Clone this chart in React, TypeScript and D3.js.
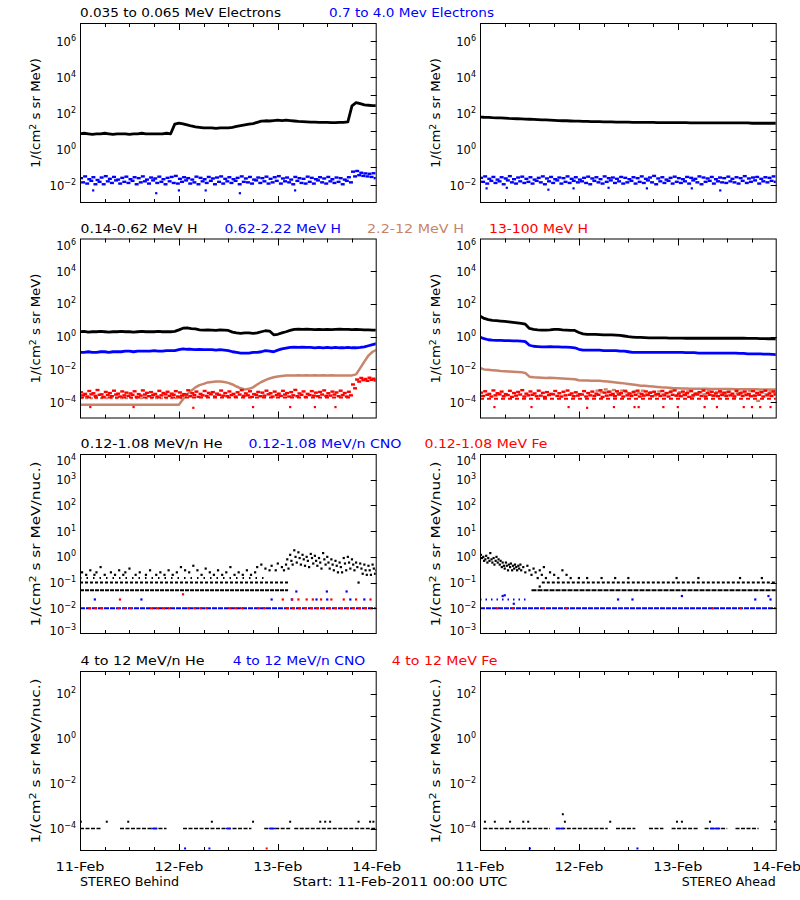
import React from "react";
import * as d3 from "d3";

// ---------------- axis labels / titles ----------------
const DAY_LABELS = ["11-Feb", "12-Feb", "13-Feb", "14-Feb"];
const FOOT_LEFT = "STEREO Behind";
const FOOT_MID = "Start: 11-Feb-2011 00:00 UTC";
const FOOT_RIGHT = "STEREO Ahead";

const TITLES_ROW1 = ["0.035 to 0.065 MeV Electrons", "0.7 to 4.0 Mev Electrons"];
const TITLES_ROW2 = ["0.14-0.62 MeV H", "0.62-2.22 MeV H", "2.2-12 MeV H", "13-100 MeV H"];
const TITLES_ROW3 = ["0.12-1.08 MeV/n He", "0.12-1.08 MeV/n CNO", "0.12-1.08 MeV Fe"];
const TITLES_ROW4 = ["4 to 12 MeV/n He", "4 to 12 MeV/n CNO", "4 to 12 MeV Fe"];

// ---------------- data (hourly, hour 0 = 11-Feb-2011 00:00) ----------------
// Row 1: electrons
const behindElecLow = [
  7, 7.5, 7, 6.5, 7, 7, 7.5, 7, 6.5, 7, 7, 7,
  6.5, 7, 7, 7.5, 7, 7, 7, 7, 7, 7.5, 7, 24,
  27, 25, 22, 19, 17, 16, 15, 15, 15, 14, 15, 15,
  15, 16, 18, 20, 22, 24, 26, 30, 35, 37, 36, 38,
  40, 38, 40, 38, 36, 34, 33, 32, 31, 31, 30, 30,
  30, 29, 29, 30, 30, 32, 250, 380, 330, 280, 270, 260,
  260,
];
const aheadElecLow = [
  60, 58, 57, 55, 54, 53, 52, 50, 49, 48, 47, 46,
  45, 44, 43, 42, 41, 40, 39, 38, 37, 37, 36, 35,
  35, 34, 34, 33, 33, 33, 32, 32, 32, 31, 31, 31,
  31, 30, 30, 30, 30, 30, 30, 29, 29, 29, 29, 29,
  29, 29, 29, 28, 28, 28, 28, 28, 28, 28, 28, 28,
  28, 28, 28, 28, 28, 28, 27, 27, 27, 27, 27, 27,
  27,
];
const behindElecHiA = [
  0.024, 0.03, 0.021, 0.027, 0.019, 0.026, 0.031, 0.022, 0.028, 0.02, 0.025, 0.029,
  0.021, 0.027, 0.024, 0.03, 0.02, 0.026, 0.023, 0.029, 0.021, 0.025, 0.028, 0.032,
  0.022, 0.027, 0.024, 0.02, 0.029, 0.025, 0.021, 0.028, 0.023, 0.026, 0.03, 0.022,
  0.027, 0.021, 0.025, 0.03, 0.023, 0.028, 0.02, 0.026, 0.024, 0.029, 0.022, 0.027,
  0.031, 0.023, 0.026, 0.02, 0.028, 0.024, 0.022, 0.029, 0.025, 0.021, 0.027, 0.023,
  0.028, 0.021, 0.026, 0.024, 0.02, 0.027, 0.055, 0.06, 0.048, 0.044, 0.042, 0.045,
];
const behindElecHiB = [
  0.014, 0.012, 0.017, 0.011, 0.015, 0.011, 0.016, 0.013, 0.018, 0.012, 0.015, 0.013,
  0.017, 0.011, 0.014, 0.016, 0.012, 0.018, 0.013, 0.015, 0.011, 0.016, 0.013, 0.012,
  0.015, 0.018, 0.012, 0.014, 0.011, 0.016, 0.013, 0.017, 0.011, 0.015, 0.012, 0.016,
  0.013, 0.017, 0.011, 0.015, 0.014, 0.012, 0.018, 0.013, 0.016, 0.012, 0.014, 0.017,
  0.012, 0.016, 0.014, 0.011, 0.017, 0.013, 0.012, 0.015, 0.012, 0.018, 0.014, 0.012,
  0.016, 0.013, 0.015, 0.011, 0.017, 0.014, 0.03, 0.035, 0.032, 0.03, 0.028, 0.024,
];
const behindElecHiOut = [[3.2, 0.005], [18.5, 0.0035], [24, 0.005], [30.5, 0.005], [38.8, 0.0035], [52.2, 0.005]];
const aheadElecHiA = [
  0.025, 0.03, 0.022, 0.028, 0.02, 0.027, 0.023, 0.031, 0.021, 0.026, 0.029, 0.022,
  0.027, 0.02, 0.025, 0.03, 0.023, 0.028, 0.021, 0.026, 0.024, 0.03, 0.022, 0.027,
  0.02, 0.025, 0.029, 0.023, 0.027, 0.021, 0.03, 0.024, 0.026, 0.022, 0.028, 0.025,
  0.021, 0.027, 0.024, 0.03, 0.022, 0.026, 0.032, 0.023, 0.027, 0.02, 0.025, 0.029,
  0.024, 0.021, 0.028, 0.025, 0.022, 0.03, 0.026, 0.023, 0.028, 0.021, 0.026, 0.024,
  0.029, 0.022, 0.027, 0.024, 0.031, 0.023, 0.026, 0.028, 0.022, 0.027, 0.025, 0.03,
];
const aheadElecHiB = [
  0.015, 0.012, 0.017, 0.013, 0.016, 0.011, 0.018, 0.014, 0.012, 0.016, 0.013, 0.015,
  0.012, 0.017, 0.014, 0.011, 0.016, 0.013, 0.018, 0.012, 0.015, 0.013, 0.017, 0.014,
  0.016, 0.013, 0.011, 0.017, 0.014, 0.012, 0.015, 0.018, 0.013, 0.016, 0.012, 0.014,
  0.017, 0.012, 0.015, 0.013, 0.018, 0.014, 0.011, 0.016, 0.013, 0.017, 0.012, 0.015,
  0.013, 0.016, 0.012, 0.018, 0.014, 0.011, 0.015, 0.017, 0.012, 0.016, 0.014, 0.013,
  0.016, 0.014, 0.012, 0.017, 0.013, 0.015, 0.018, 0.012, 0.016, 0.014, 0.017, 0.015,
];
const aheadElecHiOut = [[1.6, 0.0065], [6.5, 0.007], [16.6, 0.0055], [22.7, 0.0065], [31.2, 0.007], [40.5, 0.0065], [51.4, 0.0065], [58.3, 0.005]];

// Row 2: protons
const behindH1 = [
  2, 2.1, 1.9, 2, 2, 2.1, 2, 1.9, 2, 2, 2.1, 2,
  2, 1.9, 2, 2.1, 2, 2, 2, 2.1, 2, 2, 2, 2.1,
  2.6, 3.3, 3.4, 3.1, 3, 2.6, 2.5, 2.6, 2.5, 2.4, 2.6, 2.5,
  2.4, 1.9, 1.7, 1.6, 1.7, 1.7, 1.6, 1.7, 2, 2.3, 2.2, 1.3,
  1.4, 1.7, 2, 2.4, 2.8, 2.9, 2.8, 2.9, 2.8, 2.7, 2.8, 2.7,
  2.8, 2.7, 2.8, 2.9, 2.8, 2.8, 2.7, 2.8, 2.7, 2.6, 2.6, 2.5,
  2.5,
];
const behindH2 = [
  0.11, 0.11, 0.12, 0.11, 0.11, 0.12, 0.12, 0.11, 0.12, 0.12, 0.12, 0.13,
  0.13, 0.12, 0.13, 0.13, 0.13, 0.13, 0.14, 0.13, 0.13, 0.14, 0.14, 0.14,
  0.16, 0.18, 0.17, 0.17, 0.16, 0.17, 0.16, 0.16, 0.16, 0.15, 0.16, 0.15,
  0.14, 0.12, 0.11, 0.1, 0.1, 0.1, 0.11, 0.11, 0.12, 0.14, 0.13, 0.12,
  0.15, 0.18, 0.2, 0.22, 0.23, 0.22, 0.23, 0.22, 0.22, 0.21, 0.22, 0.21,
  0.22, 0.21, 0.22, 0.21, 0.21, 0.22, 0.21, 0.21, 0.22, 0.24, 0.28, 0.33,
  0.38,
];
const behindH3 = [
  7e-5, 7e-5, 7e-5, 7e-5, 7e-5, 7e-5, 7e-5, 7e-5, 7e-5, 7e-5, 7e-5, 7e-5,
  7e-5, 7e-5, 7e-5, 7e-5, 7e-5, 7e-5, 7e-5, 7e-5, 7e-5, 7e-5, 7e-5, 7e-5,
  7e-5, 1.5e-4, 3e-4, 5e-4, 8e-4, 1.1e-3, 1.3e-3, 1.6e-3, 1.7e-3, 1.8e-3, 1.8e-3, 1.7e-3,
  1.5e-3, 1.2e-3, 9e-4, 7e-4, 6e-4, 6.5e-4, 8e-4, 1.2e-3, 1.7e-3, 2.2e-3, 2.8e-3, 3.3e-3,
  3.7e-3, 4e-3, 4.2e-3, 4.3e-3, 4.3e-3, 4.4e-3, 4.3e-3, 4.4e-3, 4.3e-3, 4.4e-3, 4.3e-3, 4.4e-3,
  4.3e-3, 4.4e-3, 4.3e-3, 4.2e-3, 4.3e-3, 4.2e-3, 4.3e-3, 5e-3, 1.2e-2, 3e-2, 7e-2, 1.2e-1,
  1.6e-1,
];
const behindH3Runs = [[0, 25, 1.7e-4]];
const behindH4A = [
  4e-4, 3.2e-4, 4.8e-4, 3.5e-4, 5.5e-4, 3e-4, 4.2e-4, 3.6e-4, 5e-4, 3.3e-4, 4.5e-4, 3.8e-4,
  3.4e-4, 4.6e-4, 3.1e-4, 5.2e-4, 3.7e-4, 4.1e-4, 3.2e-4, 4.9e-4, 3.6e-4, 4.3e-4, 3.3e-4, 4.7e-4,
  3.9e-4, 3.1e-4, 5.3e-4, 3.5e-4, 4.4e-4, 3.2e-4, 4.8e-4, 3.7e-4, 4.1e-4, 3.3e-4, 5.1e-4, 3.6e-4,
  4.5e-4, 3.2e-4, 4e-4, 5.4e-4, 3.4e-4, 4.6e-4, 3.1e-4, 4.2e-4, 3.8e-4, 5e-4, 3.5e-4, 4.4e-4,
  3.3e-4, 4.9e-4, 3.6e-4, 4.1e-4, 5.6e-4, 3.4e-4, 4.5e-4, 3.2e-4, 4.7e-4, 3.8e-4, 4.2e-4, 5.2e-4,
  3.5e-4, 4.4e-4, 3.9e-4, 5e-4, 3.6e-4, 4.3e-4, 1.2e-3, 2.4e-3, 3e-3, 2.6e-3, 3.1e-3, 2.7e-3,
];
const behindH4B = [
  2.6e-4, 2.2e-4, 3e-4, 2.4e-4, 2.8e-4, 2.1e-4, 2.7e-4, 2.3e-4, 2.9e-4, 2.2e-4, 2.6e-4, 2.4e-4,
  2.8e-4, 2.1e-4, 2.5e-4, 2.9e-4, 2.3e-4, 2.7e-4, 2.2e-4, 2.6e-4, 3e-4, 2.4e-4, 2.8e-4, 2.2e-4,
  2.5e-4, 2.9e-4, 2.3e-4, 2.7e-4, 2.1e-4, 2.6e-4, 2.4e-4, 3e-4, 2.2e-4, 2.8e-4, 2.5e-4, 2.3e-4,
  2.7e-4, 2.2e-4, 2.9e-4, 2.4e-4, 2.6e-4, 2.1e-4, 2.8e-4, 2.3e-4, 2.5e-4, 3e-4, 2.2e-4, 2.7e-4,
  2.4e-4, 2.9e-4, 2.2e-4, 2.6e-4, 2.3e-4, 2.8e-4, 2.1e-4, 2.7e-4, 2.5e-4, 2.3e-4, 2.9e-4, 2.4e-4,
  2.5e-4, 2.9e-4, 2.3e-4, 2.7e-4, 2.2e-4, 2.6e-4, 7e-4, 1.8e-3, 2.2e-3, 2e-3, 2.3e-3, 2.1e-3,
];
const behindH4Runs = [[0, 66, 1.9e-4]];
const behindH4Out = [[2.5, 5e-5], [13, 5e-5], [27.5, 4.5e-5], [42, 5e-5], [51, 5e-5], [57, 5e-5], [62, 5e-5]];

const aheadH1 = [
  18, 13, 11, 10, 9.5, 9, 8.5, 8, 7.5, 7, 6.5, 5.8,
  3.2, 2.8, 2.6, 2.5, 2.5, 2.6, 2.8, 2.8, 2.6, 2.5, 2.4, 2.4,
  1.8, 1.5, 1.4, 1.4, 1.4, 1.35, 1.3, 1.3, 1.3, 1.25, 1.2, 1.1,
  1, 0.95, 0.9, 0.9, 0.88, 0.85, 0.85, 0.85, 0.85, 0.85, 0.82, 0.82,
  0.82, 0.82, 0.8, 0.8, 0.8, 0.8, 0.8, 0.8, 0.8, 0.8, 0.8, 0.8,
  0.8, 0.8, 0.8, 0.8, 0.8, 0.78, 0.78, 0.78, 0.76, 0.76, 0.75, 0.75,
  0.75,
];
const aheadH2 = [
  0.95, 0.75, 0.65, 0.62, 0.6, 0.6, 0.58, 0.58, 0.56, 0.55, 0.54, 0.5,
  0.3, 0.26, 0.25, 0.24, 0.24, 0.25, 0.24, 0.24, 0.23, 0.23, 0.22, 0.21,
  0.17, 0.15, 0.15, 0.15, 0.15, 0.15, 0.14, 0.14, 0.14, 0.14, 0.13, 0.13,
  0.12, 0.11, 0.11, 0.11, 0.11, 0.11, 0.11, 0.11, 0.11, 0.11, 0.11, 0.11,
  0.11, 0.11, 0.105, 0.105, 0.105, 0.1, 0.1, 0.1, 0.1, 0.1, 0.1, 0.1,
  0.1, 0.1, 0.1, 0.095, 0.095, 0.09, 0.09, 0.09, 0.088, 0.085, 0.085, 0.082,
  0.08,
];
const aheadH3 = [
  0.012, 0.01, 0.0095, 0.009, 0.0085, 0.008, 0.0078, 0.0075, 0.0072, 0.007, 0.0068, 0.006,
  0.0036, 0.0033, 0.0032, 0.0031, 0.003, 0.0031, 0.003, 0.0029, 0.0028, 0.0027, 0.0026, 0.0025,
  0.0022, 0.0021, 0.0021, 0.002, 0.002, 0.002, 0.0019, 0.0018, 0.0017, 0.0016, 0.0015, 0.0014,
  0.0013, 0.0012, 0.0011, 0.001, 0.001, 0.00095, 0.0009, 0.00085, 0.0008, 0.00078, 0.00075, 0.0007,
  0.0007, 0.00068, 0.00067, 0.00066, 0.00066, 0.00065, 0.00065, 0.00065, 0.00064, 0.00064, 0.00064, 0.00063,
  0.00063, 0.00063, 0.00062, 0.00062, 0.00062, 0.00061, 0.00061, 0.00061, 0.0006, 0.0006, 0.0006, 0.0006,
  0.0006,
];
// lower scatter of the 2.2-12 MeV channel, hours 28..71
const aheadH3Low = [
  5e-4, 4e-4, 6e-4, 4.5e-4, 5.5e-4, 3.5e-4, 5e-4, 4e-4, 3e-4, 4.5e-4, 3.5e-4, 5e-4,
  3e-4, 4e-4, 2.5e-4, 4.5e-4, 3e-4, 3.5e-4, 5e-4, 2.5e-4, 4e-4, 3e-4, 4.5e-4, 2e-4,
  3.5e-4, 4e-4, 3e-4, 5e-4, 2.5e-4, 4e-4, 3.5e-4, 3e-4, 4.5e-4, 2.5e-4, 3.5e-4, 4e-4,
  3e-4, 5e-4, 2.5e-4, 1.2e-4, 4e-4, 3e-4, 4.5e-4, 3.5e-4,
];
const aheadH4A = [
  3.8e-4, 4.6e-4, 3.2e-4, 5.2e-4, 3.5e-4, 4.4e-4, 3.1e-4, 4.9e-4, 3.6e-4, 4.2e-4, 5.4e-4, 3.3e-4,
  4.5e-4, 3.4e-4, 5e-4, 3.7e-4, 4.1e-4, 3.2e-4, 4.8e-4, 3.5e-4, 4.3e-4, 5.1e-4, 3.4e-4, 4e-4,
  3.1e-4, 4.7e-4, 3.6e-4, 4.4e-4, 3.3e-4, 5.3e-4, 3.8e-4, 4.2e-4, 3.2e-4, 4.6e-4, 3.5e-4, 4.9e-4,
  3.4e-4, 4.1e-4, 5e-4, 3.2e-4, 4.5e-4, 3.7e-4, 4.3e-4, 3.1e-4, 4.8e-4, 3.6e-4, 4.2e-4, 5.2e-4,
  3.3e-4, 4.4e-4, 3.5e-4, 4.7e-4, 3.2e-4, 4.1e-4, 5.1e-4, 3.6e-4, 4.3e-4, 3.4e-4, 4.6e-4, 3.8e-4,
  4.2e-4, 3.3e-4, 4.9e-4, 3.5e-4, 4.4e-4, 3.2e-4, 4.7e-4, 3.7e-4, 4.1e-4, 5e-4, 3.4e-4, 4.5e-4,
];
const aheadH4B = [
  2.4e-4, 2.8e-4, 2.2e-4, 2.6e-4, 3e-4, 2.3e-4, 2.7e-4, 2.1e-4, 2.5e-4, 2.9e-4, 2.2e-4, 2.6e-4,
  2.8e-4, 2.3e-4, 2.5e-4, 2.1e-4, 2.7e-4, 3e-4, 2.4e-4, 2.2e-4, 2.6e-4, 2.8e-4, 2.3e-4, 2.5e-4,
  2.9e-4, 2.2e-4, 2.6e-4, 2.4e-4, 2.8e-4, 2.1e-4, 2.5e-4, 2.7e-4, 2.3e-4, 2.9e-4, 2.2e-4, 2.6e-4,
  2.4e-4, 2.8e-4, 2.2e-4, 2.5e-4, 2.7e-4, 2.3e-4, 3e-4, 2.4e-4, 2.6e-4, 2.2e-4, 2.8e-4, 2.5e-4,
  2.3e-4, 2.7e-4, 2.1e-4, 2.6e-4, 2.9e-4, 2.4e-4, 2.2e-4, 2.8e-4, 2.5e-4, 2.3e-4, 2.7e-4, 2.4e-4,
  2.6e-4, 2.2e-4, 2.9e-4, 2.4e-4, 2.7e-4, 2.3e-4, 2.5e-4, 2.8e-4, 2.2e-4, 2.6e-4, 2.4e-4, 2.9e-4,
];
const aheadH4Runs = [[0, 72, 1.6e-4]];
const aheadH4Out = [[3.5, 5e-5], [12.5, 5e-5], [21.5, 5e-5], [26, 4.5e-5], [32.5, 5e-5], [37.5, 5e-5], [38.5, 5e-5], [44.5, 5e-5], [48, 5e-5], [54.5, 5e-5], [57.5, 5e-5], [64, 5e-5], [66, 5e-5], [68, 5e-5], [70.5, 5e-5]];

// Row 3: 0.12-1.08 MeV/n heavy ions (quantised counts -> level runs + dots)
const behindHeRunsDense = [[0, 50.5, 0.05]];
const behindHeRunsMid = [[0, 50.5, 0.1]];
const behindHeRunsSparse = [[0, 45, 0.15]];
const behindHeDots = [
  [0.5, 0.25], [1.5, 0.2], [2.5, 0.3], [3.5, 0.2], [4, 0.25], [5, 0.4], [6, 0.2], [7.5, 0.25], [8.5, 0.2], [9.5, 0.3],
  [10.5, 0.2], [11, 0.25], [12, 0.35], [13.5, 0.2], [14.5, 0.25], [16, 0.2], [17, 0.3], [18.5, 0.2], [19.5, 0.25], [20.5, 0.2],
  [21.5, 0.3], [22.5, 0.2], [23.5, 0.25], [24.5, 0.4], [25.5, 0.3], [26.5, 0.25], [27.5, 0.45], [28.5, 0.3], [29.5, 0.2], [30.5, 0.35],
  [31.5, 0.25], [32.5, 0.2], [33.5, 0.3], [34.5, 0.2], [35.5, 0.25], [36.5, 0.4], [37.5, 0.2], [38.5, 0.25], [39.5, 0.2], [40.5, 0.3],
  [41.5, 0.2], [42.5, 0.25], [43, 0.4], [44, 0.5], [45, 0.35], [46, 0.3], [46.5, 0.45], [47.5, 0.3], [48, 0.55], [49, 0.4], [49.5, 0.3],
  [50, 0.5], [50.3, 0.8], [50.6, 0.35], [51, 1.2], [51.3, 0.7], [51.6, 0.5], [52, 1.8], [52.3, 1.0], [52.6, 0.6],
  [53, 1.5], [53.3, 0.9], [53.6, 0.5], [54, 1.2], [54.3, 0.8], [54.6, 0.45], [55, 1.0], [55.3, 0.7], [55.6, 0.4],
  [56, 1.3], [56.3, 0.9], [56.6, 0.55], [57, 1.1], [57.3, 0.7], [57.6, 0.45], [58, 0.9], [58.3, 0.6], [58.6, 0.35],
  [59, 1.4], [59.3, 0.8], [59.6, 0.5], [60, 1.0], [60.3, 0.6], [60.6, 0.35], [61, 0.8], [61.3, 0.5], [61.6, 0.3],
  [62, 0.7], [62.3, 0.45], [62.6, 0.25], [63, 0.6], [63.3, 0.4], [63.6, 0.25], [64, 0.9], [64.3, 0.55], [64.6, 0.3],
  [65, 1.0], [65.3, 0.6], [65.6, 0.35], [66, 0.8], [66.3, 0.5], [66.6, 0.3], [67, 0.6], [67.3, 0.4], [67.6, 0.1],
  [68, 0.55], [68.3, 0.35], [68.6, 0.22], [69, 0.5], [69.3, 0.3], [69.6, 0.2], [70, 0.45], [70.3, 0.3], [70.6, 0.2],
  [71, 0.5], [71.3, 0.35], [71.6, 0.22], [71.9, 0.3],
];
const behindCnoRuns = [[0, 72, 0.01]];
const behindCnoDots = [[3.6, 0.022], [14.9, 0.022], [46.5, 0.022], [51.4, 0.022], [57.4, 0.022], [60, 0.022], [65.6, 0.022], [69, 0.022], [52.5, 0.045], [59.9, 0.045], [64.7, 0.045]];
const behindFeRuns = [[2, 6, 0.01], [9, 13, 0.01], [17, 22, 0.01], [26, 31, 0.01], [36, 40, 0.01], [43, 46, 0.01], [50, 72, 0.01]];
const behindFeDots = [[9.7, 0.022], [25, 0.035], [49.2, 0.022], [51.5, 0.022], [53, 0.022], [55, 0.022], [56.5, 0.022], [58.5, 0.022], [61, 0.022], [64, 0.022], [67, 0.022], [70.5, 0.022]];

const aheadHeRunsDense = [[12.5, 72, 0.05]];
const aheadHeRunsMid = [[15, 72, 0.1]];
const aheadHeDots = [
  [0.2, 1.2], [0.5, 0.9], [0.8, 1.0], [1, 0.7], [1.3, 0.8], [1.5, 1.1], [1.8, 0.6], [2, 0.9], [2.3, 0.7], [2.5, 1.4],
  [2.8, 0.8], [3, 0.6], [3.3, 0.9], [3.5, 0.5], [3.8, 0.7], [4, 1.0], [4.3, 0.6], [4.5, 0.8], [4.8, 0.5], [5, 0.7],
  [5.3, 0.4], [5.5, 0.6], [5.8, 0.45], [6, 0.35], [6.3, 0.6], [6.5, 0.45], [6.8, 0.3], [7, 0.5], [7.3, 0.4], [7.5, 0.55],
  [7.8, 0.3], [8, 0.45], [8.3, 0.35], [8.5, 0.5], [8.8, 0.4], [9, 0.3], [9.3, 0.45], [9.5, 0.35], [9.8, 0.5], [10, 0.3],
  [10.5, 0.4], [11, 0.25], [11.5, 0.45], [12, 0.3], [12.5, 0.2], [13, 0.35], [13.5, 0.25], [14, 0.15], [14.5, 0.3], [15, 0.2],
  [15.5, 0.4], [16, 0.15], [17, 0.25], [18, 0.2], [19, 0.15], [20, 0.3], [21, 0.2], [22, 0.15], [24, 0.15], [26, 0.15],
  [29.5, 0.15], [32.8, 0.15], [36, 0.15], [47.7, 0.15], [53, 0.15], [63.1, 0.15], [68.4, 0.15], [14.5, 0.07],
];
const aheadCnoRuns = [[0, 72, 0.01]];
const aheadCnoSparseRuns = [[0, 11.5, 0.022]];
const aheadCnoDots = [[5.5, 0.03], [6, 0.032], [8.2, 0.015], [33.5, 0.022], [37, 0.022], [49, 0.03], [66.8, 0.022], [70.5, 0.022], [70, 0.03]];
const aheadFeDots = [[4.2, 0.01], [8, 0.01], [15.5, 0.01], [21, 0.01], [56.5, 0.01], [63.3, 0.01]];

// Row 4: 4-12 MeV/n heavy ions
const behindHe4Runs = [[0, 5, 1e-4], [9.7, 21, 1e-4], [25, 41.6, 1e-4], [44.7, 51, 1e-4], [52, 72, 1e-4]];
const behindCno4Runs = [[17.3, 18.8, 1e-4], [35.4, 36.6, 1e-4], [45.8, 47.4, 1e-4]];
const behindHe4Dots = [[0.2, 2e-4], [6.5, 2e-4], [11.7, 2e-4], [32, 2e-4], [42, 2e-4], [51, 2e-4], [58.3, 2e-4], [59.5, 2e-4], [60.7, 2e-4], [67.6, 2e-4], [70.4, 2e-4], [71.2, 2e-4]];
const behindCno4Dots = [[25.5, 1.3e-5], [31.4, 1.3e-5]];
const behindFe4Dots = [[45.3, 1.3e-5]];

const aheadHe4Runs = [[0.8, 17, 1e-4], [18.4, 31, 1e-4], [33, 37.7, 1e-4], [41, 44.5, 1e-4], [46.5, 53, 1e-4], [54.5, 60, 1e-4], [62, 67.6, 1e-4]];
const aheadCno4Runs = [[18.4, 20.4, 1e-4], [55.8, 58.3, 1e-4]];
const aheadHe4Dots = [[1.2, 2e-4], [3.6, 2e-4], [7.3, 2e-4], [10.5, 2e-4], [11.7, 2e-4], [20.6, 2e-4], [31.6, 2e-4], [47.8, 2e-4], [49, 2e-4], [55.8, 2e-4], [71.6, 2e-4], [20.1, 4.3e-4]];
const aheadCno4Dots = [[12.1, 1.3e-5], [38.2, 1.3e-5]];

// ---------------- layout ----------------
const COL_X = [80, 480];
const PW = 296.7;
const PH = 180;
const ROWS = [
  { top: 23, lo: -3, hi: 7, labels: [-2, 0, 2, 4, 6], ticks: [-2, -1, 0, 1, 2, 3, 4, 5, 6], unit: "MeV)" },
  { top: 238.5, lo: -5, hi: 6, labels: [-4, -2, 0, 2, 4, 6], ticks: [-4, -2, 0, 2, 4], unit: "MeV)" },
  { top: 454, lo: -3, hi: 4, labels: [-3, -2, -1, 0, 1, 2, 3, 4], ticks: [-2, -1, 0, 1, 2, 3], unit: "MeV/nuc.)" },
  { top: 671, lo: -5, hi: 3, labels: [-4, -2, 0, 2], ticks: [-4, -3, -2, -1, 0, 1, 2], unit: "MeV/nuc.)" },
];
const TITLE_POS = [
  [[80, 201], [329, 165]],
  [[80.6, 117], [224.5, 116.5], [367, 97], [489, 99]],
  [[80.6, 142], [248.5, 153], [424.5, 123]],
  [[80.6, 124], [232.7, 132.6], [391.8, 105.6]],
];
const ROW_TITLES = [TITLES_ROW1, TITLES_ROW2, TITLES_ROW3, TITLES_ROW4];
const BLACK = "#000";
const BLUE = "#0000ff";
const RED = "#ff0000";
const BROWN = "#c8846a";
const TITLE_COLORS = [[BLACK, BLUE], [BLACK, BLUE, BROWN, RED], [BLACK, BLUE, RED], [BLACK, BLUE, RED]];
const FONT = "'DejaVu Sans', Arial, sans-serif";

function makeScales(col, row) {
  const r = ROWS[row];
  const x0 = COL_X[col];
  const x = d3.scaleLinear().domain([0, 72]).range([x0, x0 + PW]);
  const y = d3.scaleLog().domain([Math.pow(10, r.lo), Math.pow(10, r.hi)]).range([r.top + PH, r.top]);
  return { x, y };
}

function LineS({ vals, s, color, w = 2.8 }) {
  const line = d3.line().x((_, i) => s.x(i)).y((v) => s.y(v));
  return <path d={line(vals)} fill="none" stroke={color} strokeWidth={w} strokeLinejoin="round" />;
}
function DotS({ vals, s, color, offset = 0.25, start = 0, w = 4, h = 2.4 }) {
  return (
    <g fill={color}>
      {vals.map((v, i) => (
        <rect key={i} x={s.x(start + i + offset) - w / 2} y={s.y(v) - h / 2} width={w} height={h} />
      ))}
    </g>
  );
}
function Pts({ pts, s, color, size = 2.2 }) {
  return (
    <g fill={color}>
      {pts.map((p, i) => (
        <rect key={i} x={s.x(p[0]) - size / 2} y={s.y(p[1]) - size / 2} width={size} height={size} />
      ))}
    </g>
  );
}
function Runs({ runs, s, color, dash, w = 2 }) {
  return (
    <g stroke={color} strokeWidth={w} strokeDasharray={dash}>
      {runs.map((r, i) => (
        <line key={i} x1={s.x(r[0])} x2={s.x(r[1])} y1={s.y(r[2])} y2={s.y(r[2])} />
      ))}
    </g>
  );
}

function Frame({ col, row }) {
  const r = ROWS[row];
  const x0 = COL_X[col];
  const top = r.top;
  const bottom = top + PH;
  const { x, y } = makeScales(col, row);
  const hourTicks = d3.range(6, 72, 6);
  return (
    <g>
      <rect x={x0 + 0.5} y={top + 0.5} width={PW - 1} height={PH - 1} fill="none" stroke="#000" strokeWidth={1} />
      <g stroke="#000" strokeWidth={1}>
        {hourTicks.map((h) => {
          const len = h % 24 === 0 ? 7 : 4;
          const xx = Math.round(x(h)) + 0.5;
          return (
            <g key={h}>
              <line x1={xx} x2={xx} y1={bottom} y2={bottom - len} />
              <line x1={xx} x2={xx} y1={top} y2={top + len} />
            </g>
          );
        })}
        {r.ticks.map((e) => {
          const yy = Math.round(y(Math.pow(10, e))) + 0.5;
          return <line key={e} x1={x0 + PW} x2={x0 + PW - 6} y1={yy} y2={yy} />;
        })}
      </g>
      <g fontFamily={FONT} fontSize={11.5} fill="#000">
        {r.labels.map((e) => {
          let base = y(Math.pow(10, e)) + 4.5;
          if (e === r.hi) base = top + 11;
          if (e === r.lo) base = bottom + 0.5;
          return (
            <text key={e} x={x0 - 4} y={base} textAnchor="end">
              10<tspan dy={-5} fontSize={8}>{String(e).replace("-", "\u2212")}</tspan>
            </text>
          );
        })}
        <text
          transform={`translate(${x0 - 40},${top + PH / 2}) rotate(-90)`}
          textAnchor="middle"
          textLength={row < 2 ? 110 : 165}
          lengthAdjust="spacingAndGlyphs"
        >
          1/(cm<tspan dy={-4} fontSize={8}>2</tspan>
          <tspan dy={4}>{" s sr " + r.unit}</tspan>
        </text>
      </g>
    </g>
  );
}

function ClipDefs() {
  const defs = [];
  for (let row = 0; row < 4; row++)
    for (let col = 0; col < 2; col++)
      defs.push(
        <clipPath key={`c${row}${col}`} id={`clip${row}${col}`}>
          <rect x={COL_X[col] + 1} y={ROWS[row].top + 1} width={PW - 2} height={PH - 2} />
        </clipPath>
      );
  return <defs>{defs}</defs>;
}

export default function App() {
  const s = (col, row) => makeScales(col, row);
  const a1 = s(0, 0), b1 = s(1, 0), a2 = s(0, 1), b2 = s(1, 1), a3 = s(0, 2), b3 = s(1, 2), a4 = s(0, 3), b4 = s(1, 3);
  return (
    <svg width={800} height={900} style={{ position: "absolute", left: 0, top: 0, background: "#fff" }}>
      <rect x={0} y={0} width={800} height={900} fill="#fff" />
      <ClipDefs />
      {/* titles */}
      <g fontFamily={FONT} fontSize={11.5}>
        {ROW_TITLES.map((titles, row) =>
          titles.map((t, i) => (
            <text
              key={`${row}-${i}`}
              x={TITLE_POS[row][i][0]}
              y={ROWS[row].top - 6}
              fill={TITLE_COLORS[row][i]}
              textLength={TITLE_POS[row][i][1]}
              lengthAdjust="spacingAndGlyphs"
            >
              {t}
            </text>
          ))
        )}
      </g>

      {/* Row 1 */}
      <g clipPath="url(#clip00)">
        <LineS vals={behindElecLow} s={a1} color={BLACK} />
        <DotS vals={behindElecHiA} s={a1} color={BLUE} offset={0.25} />
        <DotS vals={behindElecHiB} s={a1} color={BLUE} offset={0.75} />
        <Pts pts={behindElecHiOut} s={a1} color={BLUE} />
      </g>
      <g clipPath="url(#clip01)">
        <LineS vals={aheadElecLow} s={b1} color={BLACK} />
        <DotS vals={aheadElecHiA} s={b1} color={BLUE} offset={0.25} />
        <DotS vals={aheadElecHiB} s={b1} color={BLUE} offset={0.75} />
        <Pts pts={aheadElecHiOut} s={b1} color={BLUE} />
      </g>

      {/* Row 2 */}
      <g clipPath="url(#clip10)">
        <LineS vals={behindH1} s={a2} color={BLACK} />
        <LineS vals={behindH2} s={a2} color={BLUE} />
        <Runs runs={behindH3Runs} s={a2} color={BROWN} dash="3 2" />
        <LineS vals={behindH3} s={a2} color={BROWN} w={2.5} />
        <Runs runs={behindH4Runs} s={a2} color={RED} dash="4 3" />
        <DotS vals={behindH4A} s={a2} color={RED} offset={0.25} />
        <DotS vals={behindH4B} s={a2} color={RED} offset={0.75} />
        <Pts pts={behindH4Out} s={a2} color={RED} />
      </g>
      <g clipPath="url(#clip11)">
        <LineS vals={aheadH1} s={b2} color={BLACK} />
        <LineS vals={aheadH2} s={b2} color={BLUE} />
        <LineS vals={aheadH3} s={b2} color={BROWN} w={2.5} />
        <DotS vals={aheadH3Low} s={b2} color={BROWN} start={28} offset={0.5} />
        <Runs runs={aheadH4Runs} s={b2} color={RED} dash="4 3" />
        <DotS vals={aheadH4A} s={b2} color={RED} offset={0.25} />
        <DotS vals={aheadH4B} s={b2} color={RED} offset={0.75} />
        <Pts pts={aheadH4Out} s={b2} color={RED} />
      </g>

      {/* Row 3 */}
      <g clipPath="url(#clip20)">
        <Runs runs={behindHeRunsDense} s={a3} color={BLACK} dash="4 1" />
        <Runs runs={behindHeRunsMid} s={a3} color={BLACK} dash="3 2" />
        <Runs runs={behindHeRunsSparse} s={a3} color={BLACK} dash="1.5 5" />
        <Pts pts={behindHeDots} s={a3} color={BLACK} />
        <Runs runs={behindCnoRuns} s={a3} color={BLUE} dash="5 1" />
        <Runs runs={behindFeRuns} s={a3} color={RED} dash="3 3" />
        <Pts pts={behindCnoDots} s={a3} color={BLUE} />
        <Pts pts={behindFeDots} s={a3} color={RED} />
      </g>
      <g clipPath="url(#clip21)">
        <Runs runs={aheadHeRunsDense} s={b3} color={BLACK} dash="5 1" />
        <Runs runs={aheadHeRunsMid} s={b3} color={BLACK} dash="3 2" />
        <Pts pts={aheadHeDots} s={b3} color={BLACK} />
        <Runs runs={aheadCnoRuns} s={b3} color={BLUE} dash="5 1" />
        <Runs runs={aheadCnoSparseRuns} s={b3} color={BLUE} dash="1.5 4" />
        <Pts pts={aheadCnoDots} s={b3} color={BLUE} />
        <Pts pts={aheadFeDots} s={b3} color={RED} />
      </g>

      {/* Row 4 */}
      <g clipPath="url(#clip30)">
        <Runs runs={behindHe4Runs} s={a4} color={BLACK} dash="4 1.5" w={1.5} />
        <Runs runs={behindCno4Runs} s={a4} color={BLUE} w={1.5} />
        <Pts pts={behindHe4Dots} s={a4} color={BLACK} size={2} />
        <Pts pts={behindCno4Dots} s={a4} color={BLUE} size={2} />
        <Pts pts={behindFe4Dots} s={a4} color={RED} size={2} />
      </g>
      <g clipPath="url(#clip31)">
        <Runs runs={aheadHe4Runs} s={b4} color={BLACK} dash="4 1.5" w={1.5} />
        <Runs runs={aheadCno4Runs} s={b4} color={BLUE} w={1.5} />
        <Pts pts={aheadHe4Dots} s={b4} color={BLACK} size={2} />
        <Pts pts={aheadCno4Dots} s={b4} color={BLUE} size={2} />
      </g>

      {/* frames drawn on top */}
      {[0, 1, 2, 3].map((row) => [0, 1].map((col) => <Frame key={`${row}${col}`} col={col} row={row} />))}

      {/* bottom axis labels */}
      <g fontFamily={FONT} fontSize={11.5} fill="#000">
        {[0, 1].map((col) =>
          DAY_LABELS.map((d, i) => (
            <text key={`${col}${i}`} x={COL_X[col] + (PW * i) / 3} y={870.5} textAnchor="middle" textLength={49} lengthAdjust="spacingAndGlyphs">
              {d}
            </text>
          ))
        )}
        <text x={80} y={885.5} textLength={99} lengthAdjust="spacingAndGlyphs">{FOOT_LEFT}</text>
        <text x={292.7} y={885.5} textLength={214.6} lengthAdjust="spacingAndGlyphs">{FOOT_MID}</text>
        <text x={681.7} y={885.5} textLength={94} lengthAdjust="spacingAndGlyphs">{FOOT_RIGHT}</text>
      </g>
    </svg>
  );
}
